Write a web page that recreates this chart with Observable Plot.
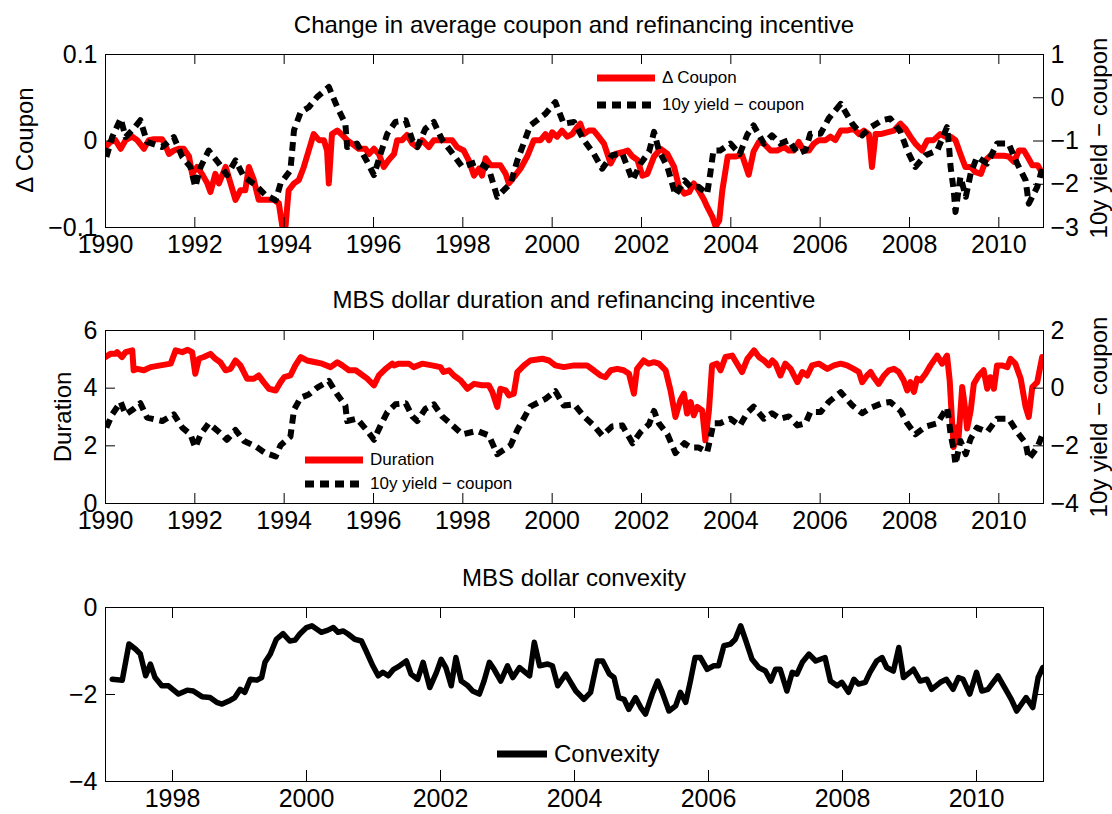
<!DOCTYPE html>
<html><head><meta charset="utf-8">
<script src="https://cdn.jsdelivr.net/npm/d3@7"></script>
<script src="https://cdn.jsdelivr.net/npm/@observablehq/plot@0.6"></script>
<style>
body{margin:0;background:#fff;font-family:"Liberation Sans",Arial,sans-serif;color:#000;}
#wrap{position:relative;width:1112px;height:814px;overflow:hidden;}
.panel{position:absolute;left:0;}
.title{position:absolute;left:105px;width:938px;text-align:center;font-size:24px;line-height:28px;white-space:nowrap;}
.ylab{position:absolute;font-size:24px;white-space:nowrap;line-height:1;transform:translate(-50%,-50%) rotate(-90deg);}
.leg{position:absolute;display:flex;align-items:center;gap:7px;white-space:nowrap;}
</style>
</head><body><div id="wrap"></div>
<script>
// ---------- data ----------
const couponChange = [[1990.00,-0.007],[1990.11,-0.001],[1990.22,0.001],[1990.34,-0.009],[1990.45,0.001],[1990.60,0.005],[1990.71,0.001],[1990.86,-0.009],[1990.97,0.001],[1991.08,0.002],[1991.27,0.002],[1991.34,-0.005],[1991.42,-0.015],[1991.53,-0.011],[1991.64,-0.009],[1991.75,-0.009],[1991.87,-0.018],[1991.94,-0.038],[1992.05,-0.030],[1992.16,-0.038],[1992.28,-0.049],[1992.35,-0.059],[1992.46,-0.038],[1992.54,-0.049],[1992.69,-0.030],[1992.80,-0.049],[1992.91,-0.068],[1993.02,-0.057],[1993.13,-0.057],[1993.21,-0.030],[1993.32,-0.045],[1993.43,-0.068],[1993.62,-0.068],[1993.77,-0.068],[1993.88,-0.072],[1993.96,-0.099],[1994.03,-0.099],[1994.10,-0.057],[1994.22,-0.049],[1994.33,-0.045],[1994.44,-0.030],[1994.55,-0.011],[1994.66,0.008],[1994.78,0.001],[1994.89,0.001],[1994.96,-0.011],[1995.00,-0.049],[1995.07,0.008],[1995.19,0.012],[1995.30,0.007],[1995.41,0.001],[1995.52,-0.003],[1995.67,-0.009],[1995.82,-0.009],[1995.90,-0.015],[1996.01,-0.009],[1996.12,-0.015],[1996.23,-0.030],[1996.34,-0.022],[1996.46,-0.015],[1996.53,0.001],[1996.64,0.001],[1996.75,0.007],[1996.87,-0.003],[1996.98,-0.007],[1997.09,0.001],[1997.24,-0.007],[1997.35,0.001],[1997.50,0.001],[1997.76,0.001],[1997.87,-0.007],[1998.02,-0.011],[1998.13,-0.022],[1998.25,-0.040],[1998.36,-0.032],[1998.43,-0.040],[1998.51,-0.020],[1998.62,-0.028],[1998.84,-0.028],[1998.96,-0.038],[1999.03,-0.049],[1999.14,-0.042],[1999.29,-0.032],[1999.44,-0.018],[1999.59,0.001],[1999.74,0.001],[1999.85,0.008],[1999.93,0.001],[2000.00,0.010],[2000.11,0.005],[2000.22,0.012],[2000.34,0.005],[2000.45,0.008],[2000.56,0.016],[2000.63,0.020],[2000.71,0.008],[2000.82,0.012],[2000.93,0.012],[2001.04,0.005],[2001.16,-0.003],[2001.31,-0.026],[2001.42,-0.015],[2001.57,-0.013],[2001.69,-0.011],[2001.80,-0.018],[2001.91,-0.022],[2002.02,-0.040],[2002.13,-0.038],[2002.28,-0.018],[2002.43,-0.009],[2002.58,-0.015],[2002.73,-0.030],[2002.84,-0.053],[2002.96,-0.061],[2003.07,-0.059],[2003.17,-0.049],[2003.28,-0.057],[2003.40,-0.068],[2003.47,-0.076],[2003.59,-0.088],[2003.66,-0.099],[2003.74,-0.092],[2003.81,-0.057],[2003.93,-0.018],[2004.10,-0.018],[2004.25,-0.016],[2004.40,-0.039],[2004.51,-0.012],[2004.63,-0.001],[2004.74,-0.003],[2004.89,-0.011],[2005.04,-0.011],[2005.19,-0.007],[2005.30,-0.011],[2005.41,-0.011],[2005.52,-0.001],[2005.63,-0.011],[2005.75,-0.011],[2005.86,-0.003],[2005.97,0.001],[2006.12,0.001],[2006.23,0.005],[2006.34,0.001],[2006.46,0.012],[2006.60,0.012],[2006.75,0.014],[2006.87,0.008],[2006.98,0.012],[2007.09,0.008],[2007.16,-0.030],[2007.24,0.008],[2007.35,0.008],[2007.50,0.010],[2007.65,0.012],[2007.80,0.020],[2007.91,0.014],[2008.02,0.005],[2008.13,-0.003],[2008.28,-0.011],[2008.40,0.001],[2008.54,0.001],[2008.69,0.008],[2008.81,0.005],[2008.92,0.005],[2009.03,0.001],[2009.14,-0.015],[2009.25,-0.030],[2009.37,-0.030],[2009.48,-0.036],[2009.60,-0.038],[2009.71,-0.022],[2009.81,-0.017],[2009.96,-0.017],[2010.11,-0.017],[2010.22,-0.018],[2010.34,-0.024],[2010.45,-0.011],[2010.56,-0.011],[2010.64,-0.018],[2010.75,-0.028],[2010.87,-0.028],[2010.98,-0.038]];

const yieldMinusCoupon = [[1990.02,-1.37],[1990.15,-0.91],[1990.34,-0.48],[1990.45,-0.91],[1990.63,-0.72],[1990.78,-0.52],[1990.93,-1.02],[1991.27,-1.14],[1991.53,-0.91],[1991.72,-1.37],[1991.90,-1.60],[1992.01,-2.06],[1992.13,-1.60],[1992.31,-1.22],[1992.54,-1.52],[1992.72,-1.79],[1992.91,-1.45],[1993.10,-1.83],[1993.36,-2.02],[1993.58,-2.25],[1993.81,-2.37],[1993.92,-1.98],[1994.03,-1.83],[1994.14,-1.68],[1994.22,-0.75],[1994.37,-0.33],[1994.55,-0.22],[1994.74,0.02],[1995.00,0.25],[1995.19,-0.22],[1995.37,-0.60],[1995.41,-1.14],[1995.63,-1.06],[1995.86,-1.48],[1996.01,-1.79],[1996.16,-1.29],[1996.31,-0.83],[1996.49,-0.56],[1996.72,-0.52],[1996.87,-0.98],[1996.98,-1.14],[1997.16,-0.72],[1997.35,-0.56],[1997.54,-0.98],[1997.72,-1.22],[1997.99,-1.60],[1998.32,-1.48],[1998.58,-1.64],[1998.77,-2.29],[1999.07,-1.98],[1999.22,-1.45],[1999.51,-0.64],[1999.85,-0.37],[2000.07,-0.10],[2000.26,-0.60],[2000.49,-0.56],[2000.71,-0.98],[2000.93,-1.29],[2001.12,-1.64],[2001.34,-1.33],[2001.57,-1.29],[2001.80,-1.91],[2001.98,-1.52],[2002.17,-1.25],[2002.28,-0.79],[2002.39,-1.22],[2002.58,-1.60],[2002.76,-2.25],[2002.96,-1.91],[2003.10,-2.06],[2003.28,-2.06],[2003.47,-2.22],[2003.54,-1.75],[2003.61,-1.22],[2003.76,-1.22],[2003.99,-1.06],[2004.20,-1.30],[2004.37,-0.85],[2004.51,-0.64],[2004.74,-1.06],[2004.92,-0.87],[2005.11,-1.06],[2005.30,-0.98],[2005.49,-1.29],[2005.67,-1.22],[2005.78,-0.83],[2006.01,-0.83],[2006.19,-0.48],[2006.46,-0.14],[2006.72,-0.60],[2006.94,-0.87],[2007.13,-0.68],[2007.39,-0.52],[2007.57,-0.48],[2007.80,-0.79],[2007.95,-1.22],[2008.13,-1.60],[2008.36,-1.33],[2008.62,-1.22],[2008.84,-0.68],[2008.88,-1.06],[2008.92,-1.60],[2008.99,-2.14],[2009.03,-2.64],[2009.14,-1.83],[2009.26,-2.29],[2009.37,-1.75],[2009.51,-1.37],[2009.74,-1.52],[2009.96,-1.06],[2010.22,-1.06],[2010.41,-1.52],[2010.60,-1.91],[2010.67,-2.45],[2010.86,-2.06],[2010.98,-1.60]];

const duration = [[1990.00,5.08],[1990.11,5.19],[1990.22,5.19],[1990.26,5.25],[1990.37,5.08],[1990.45,5.25],[1990.60,5.31],[1990.63,4.62],[1990.71,4.67],[1990.86,4.62],[1991.01,4.73],[1991.23,4.79],[1991.46,4.85],[1991.57,5.31],[1991.72,5.25],[1991.84,5.33],[1991.94,5.25],[1992.01,4.50],[1992.09,5.02],[1992.20,5.08],[1992.35,5.19],[1992.46,5.02],[1992.57,4.90],[1992.69,4.62],[1992.80,4.67],[1992.91,4.96],[1993.02,4.79],[1993.17,4.33],[1993.32,4.33],[1993.43,4.44],[1993.54,4.21],[1993.66,3.98],[1993.81,3.92],[1993.92,4.21],[1994.00,4.38],[1994.14,4.44],[1994.25,4.79],[1994.37,5.08],[1994.51,4.96],[1994.70,4.90],[1994.85,4.85],[1995.04,4.73],[1995.19,4.90],[1995.30,4.79],[1995.45,4.62],[1995.60,4.62],[1995.71,4.50],[1995.86,4.33],[1996.01,4.10],[1996.12,4.44],[1996.27,4.67],[1996.42,4.85],[1996.46,4.79],[1996.57,4.85],[1996.79,4.85],[1996.90,4.73],[1997.09,4.85],[1997.31,4.79],[1997.50,4.73],[1997.57,4.56],[1997.69,4.62],[1997.80,4.44],[1997.95,4.27],[1998.10,3.98],[1998.25,4.15],[1998.43,4.10],[1998.58,4.10],[1998.66,3.87],[1998.77,3.35],[1998.84,3.98],[1998.96,3.92],[1999.03,3.75],[1999.14,3.81],[1999.22,4.56],[1999.37,4.79],[1999.51,4.96],[1999.78,5.02],[1999.93,4.96],[2000.07,4.79],[2000.26,4.73],[2000.49,4.79],[2000.78,4.79],[2000.93,4.62],[2001.08,4.44],[2001.19,4.38],[2001.31,4.62],[2001.46,4.67],[2001.60,4.62],[2001.72,4.50],[2001.83,3.81],[2001.90,4.67],[2002.05,4.96],[2002.16,4.85],[2002.28,4.90],[2002.39,4.85],[2002.54,4.62],[2002.65,3.92],[2002.76,3.00],[2002.87,3.58],[2002.95,3.81],[2003.02,3.12],[2003.10,3.52],[2003.17,3.06],[2003.25,3.35],[2003.36,3.23],[2003.43,2.19],[2003.51,3.23],[2003.58,4.79],[2003.69,4.85],[2003.77,4.62],[2003.88,5.08],[2004.03,5.13],[2004.25,4.56],[2004.37,5.02],[2004.52,5.31],[2004.63,5.08],[2004.74,4.96],[2004.85,4.79],[2004.93,4.96],[2005.00,4.85],[2005.11,4.44],[2005.22,4.85],[2005.34,4.67],[2005.49,4.21],[2005.60,4.56],[2005.71,4.44],[2005.82,4.79],[2005.97,4.85],[2006.16,4.67],[2006.31,4.79],[2006.46,4.85],[2006.60,4.79],[2006.75,4.67],[2006.87,4.56],[2006.94,4.21],[2007.05,4.44],[2007.13,4.56],[2007.20,4.38],[2007.31,4.15],[2007.43,4.44],[2007.54,4.62],[2007.65,4.67],[2007.76,4.56],[2007.87,4.27],[2007.95,3.92],[2008.02,4.21],[2008.10,3.87],[2008.17,4.33],[2008.25,4.27],[2008.36,4.50],[2008.47,4.79],[2008.62,5.13],[2008.73,4.85],[2008.84,5.13],[2008.90,4.27],[2008.96,2.65],[2008.99,1.96],[2009.07,2.65],[2009.10,2.31],[2009.18,4.04],[2009.25,3.23],[2009.29,2.60],[2009.37,3.23],[2009.44,4.15],[2009.55,4.44],[2009.66,4.62],[2009.74,3.98],[2009.81,4.38],[2009.89,3.98],[2009.96,4.79],[2010.07,4.79],[2010.19,4.73],[2010.26,5.02],[2010.37,4.85],[2010.49,4.33],[2010.60,3.35],[2010.67,3.00],[2010.75,4.04],[2010.86,4.21],[2010.97,5.08]];

const convexity = [[1997.10,-1.65],[1997.25,-1.67],[1997.35,-0.84],[1997.45,-0.96],[1997.52,-1.07],[1997.60,-1.57],[1997.67,-1.30],[1997.74,-1.61],[1997.84,-1.80],[1997.94,-1.80],[1998.09,-1.99],[1998.22,-1.90],[1998.31,-1.92],[1998.44,-2.05],[1998.56,-2.07],[1998.66,-2.18],[1998.74,-2.22],[1998.84,-2.15],[1998.93,-2.07],[1999.01,-1.88],[1999.08,-1.95],[1999.16,-1.65],[1999.26,-1.67],[1999.33,-1.61],[1999.38,-1.26],[1999.46,-1.07],[1999.55,-0.73],[1999.65,-0.60],[1999.75,-0.77],[1999.83,-0.75],[1999.90,-0.61],[2000.00,-0.46],[2000.08,-0.42],[2000.22,-0.57],[2000.32,-0.52],[2000.40,-0.46],[2000.47,-0.57],[2000.55,-0.54],[2000.62,-0.61],[2000.72,-0.73],[2000.82,-0.77],[2000.89,-1.00],[2000.99,-1.34],[2001.07,-1.57],[2001.14,-1.49],[2001.22,-1.57],[2001.30,-1.42],[2001.39,-1.34],[2001.49,-1.23],[2001.56,-1.53],[2001.66,-1.65],[2001.74,-1.26],[2001.84,-1.84],[2001.94,-1.49],[2002.01,-1.19],[2002.08,-1.38],[2002.16,-1.80],[2002.23,-1.15],[2002.31,-1.69],[2002.41,-1.80],[2002.48,-1.92],[2002.58,-1.99],[2002.65,-1.69],[2002.73,-1.26],[2002.80,-1.42],[2002.90,-1.69],[2003.00,-1.34],[2003.08,-1.61],[2003.18,-1.38],[2003.33,-1.57],[2003.40,-0.80],[2003.48,-1.34],[2003.60,-1.30],[2003.67,-1.34],[2003.75,-1.80],[2003.87,-1.53],[2004.02,-1.92],[2004.14,-2.11],[2004.24,-1.95],[2004.34,-1.23],[2004.42,-1.23],[2004.52,-1.53],[2004.59,-1.61],[2004.66,-2.07],[2004.74,-2.11],[2004.81,-2.34],[2004.91,-2.07],[2004.99,-2.30],[2005.06,-2.45],[2005.16,-1.99],[2005.24,-1.69],[2005.31,-1.95],[2005.41,-2.38],[2005.51,-2.26],[2005.58,-1.95],[2005.66,-2.18],[2005.73,-1.69],[2005.80,-1.15],[2005.88,-1.15],[2005.98,-1.42],[2006.08,-1.34],[2006.15,-1.34],[2006.23,-0.88],[2006.33,-0.84],[2006.40,-0.73],[2006.48,-0.42],[2006.55,-0.73],[2006.65,-1.19],[2006.75,-1.38],[2006.85,-1.46],[2006.93,-1.69],[2007.00,-1.42],[2007.07,-1.42],[2007.17,-1.92],[2007.25,-1.49],[2007.32,-1.53],[2007.40,-1.26],[2007.50,-1.07],[2007.60,-1.23],[2007.74,-1.15],[2007.82,-1.69],[2007.92,-1.80],[2007.99,-1.72],[2008.09,-1.95],[2008.17,-1.65],[2008.24,-1.76],[2008.34,-1.72],[2008.41,-1.49],[2008.51,-1.23],[2008.59,-1.15],[2008.66,-1.38],[2008.76,-1.46],[2008.84,-0.92],[2008.91,-1.61],[2009.06,-1.42],[2009.16,-1.69],[2009.26,-1.65],[2009.33,-1.88],[2009.46,-1.72],[2009.55,-1.65],[2009.65,-1.88],[2009.73,-1.61],[2009.80,-1.65],[2009.90,-1.99],[2010.00,-1.49],[2010.08,-1.92],[2010.17,-1.88],[2010.32,-1.57],[2010.45,-1.92],[2010.52,-2.11],[2010.60,-2.38],[2010.74,-2.07],[2010.84,-2.30],[2010.92,-1.61],[2010.99,-1.38]];

const yearTicksA = [1990,1992,1994,1996,1998,2000,2002,2004,2006,2008,2010];
const yearTicksB = [1998,2000,2002,2004,2006,2008,2010];
const couponTicks = [-0.1,0,0.1];
const spreadTicksTop = [-3,-2,-1,0,1];
const durationTicks = [0,2,4,6];
const spreadTicksMid = [-4,-2,0,2];
const convexityTicks = [-4,-2,0];

const titles = ["Change in average coupon and refinancing incentive","MBS dollar duration and refinancing incentive","MBS dollar convexity"];
const RED = "#ff0000";

// ---------- layout ----------
const W = 1112, ML = 105, MR = 69, MT = 54, MB = 33, H = 260;
const PH = H - MT - MB, PW = W - ML - MR, TK = 10;
const FONT = "'Liberation Sans', Arial, sans-serif";
const minus = v => (v < 0 ? "\u2212" + String(Math.abs(v)) : String(v));
const wrap = document.getElementById("wrap");

function tickRules(xt, ylt, yrt) {
  return [
    Plot.ruleX(xt, {x: d => d, insetTop: PH - TK, stroke: "black"}),
    Plot.ruleX(xt, {x: d => d, insetBottom: PH - TK, stroke: "black"}),
    Plot.ruleY(ylt, {y: d => d, insetRight: PW - TK, stroke: "black"}),
    Plot.ruleY(yrt, {y: d => d, insetLeft: PW - TK, stroke: "black"})
  ];
}
function baseOpts(xdom, ydom, h) {
  return {
    width: W, height: h, marginLeft: ML, marginRight: MR, marginTop: MT, marginBottom: MB,
    x: {domain: xdom}, y: {domain: ydom},
    style: {fontFamily: FONT, fontSize: "25px", background: "white", color: "black", overflow: "visible"}
  };
}
function xAxis(ticks) {
  return Plot.axisX({ticks, tickFormat: d => String(d), tickSize: 0, tickPadding: 8, label: null});
}
function place(svg, top) {
  svg.classList.add("panel");
  svg.style.position = "absolute";
  svg.style.top = top + "px";
  wrap.appendChild(svg);
}

// Panel 1: left y = Δ coupon, right y = 10y yield − coupon (mapped to left scale)
const to1 = r => -0.1 + (r + 3) * 0.05;
const from1 = v => Math.round((v + 0.1) / 0.05 - 3);
const p1 = Plot.plot({
  ...baseOpts([1990, 2011], [-0.1, 0.1], H),
  marks: [
    Plot.line(couponChange, {x: d => d[0], y: d => d[1], stroke: RED, strokeWidth: 6, clip: true}),
    Plot.line(yieldMinusCoupon, {x: d => d[0], y: d => to1(d[1]), stroke: "black", strokeWidth: 6, strokeDasharray: "9,6", strokeLinecap: "butt", clip: true}),
    ...tickRules(yearTicksA, couponTicks, spreadTicksTop.map(to1)),
    Plot.frame({stroke: "black"}),
    xAxis(yearTicksA),
    Plot.axisY({ticks: couponTicks, tickSize: 0, tickPadding: 8, tickFormat: v => minus(v), label: null}),
    Plot.axisY({anchor: "right", ticks: spreadTicksTop.map(to1), tickSize: 0, tickPadding: 7, tickFormat: v => minus(from1(v)), label: null})
  ]
});
place(p1, 0);

// Panel 2: left y = duration, right y = 10y yield − coupon
const to2 = r => r + 4;
const from2 = v => Math.round(v - 4);
const p2 = Plot.plot({
  ...baseOpts([1990, 2011], [0, 6], H),
  marks: [
    Plot.line(duration, {x: d => d[0], y: d => d[1], stroke: RED, strokeWidth: 6, clip: true}),
    Plot.line(yieldMinusCoupon, {x: d => d[0], y: d => to2(d[1]), stroke: "black", strokeWidth: 6, strokeDasharray: "9,6", strokeLinecap: "butt", clip: true}),
    ...tickRules(yearTicksA, durationTicks, spreadTicksMid.map(to2)),
    Plot.frame({stroke: "black"}),
    xAxis(yearTicksA),
    Plot.axisY({ticks: durationTicks, tickSize: 0, tickPadding: 8, tickFormat: v => minus(v), label: null}),
    Plot.axisY({anchor: "right", ticks: spreadTicksMid.map(to2), tickSize: 0, tickPadding: 7, tickFormat: v => minus(from2(v)), label: null})
  ]
});
place(p2, 276);

// Panel 3: convexity
const p3 = Plot.plot({
  ...baseOpts([1997, 2011], [-4, 0], H + 1),
  marks: [
    Plot.line(convexity, {x: d => d[0], y: d => d[1], stroke: "black", strokeWidth: 5.5, clip: true}),
    ...tickRules(yearTicksB, convexityTicks, convexityTicks),
    Plot.frame({stroke: "black"}),
    xAxis(yearTicksB),
    Plot.axisY({ticks: convexityTicks, tickSize: 0, tickPadding: 8, tickFormat: v => minus(v), label: null})
  ]
});
place(p3, 553);

// ---------- titles, axis labels, legends ----------
function addDiv(cls, text, css) {
  const d = document.createElement("div");
  d.className = cls; d.textContent = text;
  Object.assign(d.style, css);
  wrap.appendChild(d);
  return d;
}
addDiv("title", titles[0], {top: "11px"});
addDiv("title", titles[1], {top: "286px"});
addDiv("title", titles[2], {top: "564px"});
addDiv("ylab", "\u0394 Coupon", {left: "25px", top: "140px"});
addDiv("ylab", "10y yield \u2212 coupon", {left: "1099px", top: "138px"});
addDiv("ylab", "Duration", {left: "63px", top: "417px"});
addDiv("ylab", "10y yield \u2212 coupon", {left: "1099px", top: "417px"});

function legendRow(x, cy, len, color, dashed, text, fs) {
  const d = document.createElement("div");
  d.className = "leg";
  Object.assign(d.style, {left: x + "px", top: (cy - 14) + "px", height: "28px", fontSize: fs + "px"});
  const ns = "http://www.w3.org/2000/svg";
  const s = document.createElementNS(ns, "svg");
  s.setAttribute("width", len); s.setAttribute("height", 10);
  const l = document.createElementNS(ns, "line");
  l.setAttribute("x1", 0); l.setAttribute("x2", len); l.setAttribute("y1", 5); l.setAttribute("y2", 5);
  l.setAttribute("stroke", color); l.setAttribute("stroke-width", 7);
  if (dashed) l.setAttribute("stroke-dasharray", "9,6");
  s.appendChild(l);
  const t = document.createElement("span"); t.textContent = text;
  d.appendChild(s); d.appendChild(t);
  wrap.appendChild(d);
}
legendRow(597, 78, 58, RED, false, "\u0394 Coupon", 17);
legendRow(597, 105, 58, "black", true, "10y yield \u2212 coupon", 17);
legendRow(305, 460, 58, RED, false, "Duration", 17);
legendRow(305, 484, 58, "black", true, "10y yield \u2212 coupon", 17);
legendRow(497, 754, 50, "black", false, "Convexity", 24);
</script></body></html>
